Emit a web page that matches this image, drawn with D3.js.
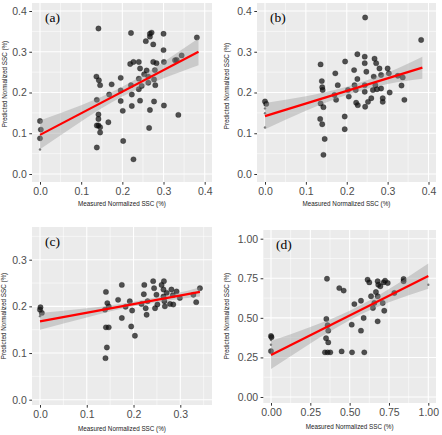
<!DOCTYPE html>
<html><head><meta charset="utf-8">
<script src="https://cdn.jsdelivr.net/npm/d3@7"></script>
<style>body{margin:0;background:#fff}svg{display:block}</style>
</head><body><svg id="c" width="442" height="435"></svg>
<script>
// ---------- DATA ----------
const panelLabels = ["(a)", "(b)", "(c)", "(d)"];
const xTitle = "Measured Normalized SSC (%)";
const yTitle = "Predicted Normalized SSC (%)";

const ticksA = [0, 0.1, 0.2, 0.3, 0.4];
const ticksC = [0, 0.1, 0.2, 0.3];
const ticksD = [0, 0.25, 0.5, 0.75, 1.0];

const aX = [0,0.002,0,0.142,0.137,0.143,0.146,0.138,0.142,0.142,0.142,0.138,0.146,0.146,0.138,0.166,0.168,0.174,0.196,0.196,0.196,0.201,0.202,0.221,0.219,0.227,0.221,0.223,0.223,0.227,0.240,0.243,0.240,0.240,0.243,0.247,0.257,0.259,0.263,0.263,0.267,0.267,0.271,0.267,0.265,0.275,0.275,0.279,0.277,0.280,0.277,0.283,0.300,0.300,0.301,0.301,0.328,0.332,0.344,0.336,0.381,0.253];
const aY = [0.130,0.109,0.0875,0.357,0.239,0.230,0.218,0.182,0.146,0.135,0.119,0.119,0.115,0.102,0.065,0.127,0.195,0.220,0.236,0.205,0.179,0.155,0.081,0.346,0.270,0.275,0.218,0.195,0.167,0.036,0.275,0.259,0.234,0.208,0.180,0.216,0.326,0.254,0.239,0.224,0.344,0.337,0.347,0.157,0.113,0.318,0.275,0.255,0.232,0.218,0.178,0.272,0.344,0.304,0.275,0.168,0.279,0.280,0.291,0.145,0.335,0.245];
const aSmallX = [0];
const aSmallY = [0.060];
const aFitX = [0, 0.385];
const aFitY = [0.096, 0.300];
const aBandX = [0, 0.1, 0.2, 0.3, 0.385];
const aBandLo = [0.061, 0.129, 0.190, 0.235, 0.267];
const aBandHi = [0.131, 0.169, 0.214, 0.275, 0.333];

const bX = [0.003,0,0.136,0.139,0.140,0.141,0.136,0.143,0.135,0.140,0.146,0.143,0.172,0.178,0.170,0.174,0.196,0.195,0.195,0.203,0.205,0.218,0.219,0.222,0.223,0.227,0.226,0.226,0.244,0.245,0.244,0.248,0.244,0.244,0.245,0.252,0.260,0.264,0.268,0.272,0.266,0.270,0.274,0.280,0.284,0.284,0.288,0.288,0.300,0.303,0.305,0.325,0.337,0.334,0.341,0.382];
const bY = [0.172,0.178,0.269,0.228,0.213,0.206,0.173,0.164,0.135,0.122,0.086,0.047,0.247,0.218,0.194,0.182,0.276,0.141,0.110,0.206,0.190,0.255,0.218,0.206,0.175,0.169,0.294,0.233,0.288,0.384,0.272,0.251,0.218,0.202,0.165,0.177,0.186,0.206,0.283,0.272,0.239,0.218,0.208,0.259,0.243,0.210,0.186,0.177,0.259,0.247,0.200,0.241,0.237,0.217,0.182,0.329];
const bSmallX = [0, 0, 0];
const bSmallY = [0.161, 0.149, 0.114];
const bFitX = [0, 0.385];
const bFitY = [0.142, 0.261];
const bBandX = [0, 0.1, 0.2, 0.3, 0.385];
const bBandLo = [0.110, 0.155, 0.194, 0.221, 0.234];
const bBandHi = [0.174, 0.191, 0.214, 0.249, 0.288];

const cX = [0.001,0,0.004,0.141,0.139,0.144,0.147,0.141,0.147,0.143,0.140,0.167,0.175,0.175,0.183,0.192,0.195,0.197,0.203,0.217,0.222,0.223,0.228,0.226,0.230,0.242,0.244,0.246,0.249,0.251,0.260,0.265,0.264,0.264,0.266,0.267,0.271,0.278,0.281,0.284,0.285,0.292,0.299,0.328,0.334,0.342];
const cY = [0.198,0.193,0.186,0.231,0.193,0.207,0.200,0.155,0.155,0.112,0.089,0.214,0.246,0.175,0.199,0.211,0.157,0.191,0.137,0.205,0.226,0.246,0.182,0.196,0.211,0.254,0.239,0.196,0.225,0.204,0.246,0.254,0.236,0.221,0.211,0.200,0.229,0.205,0.236,0.224,0.204,0.232,0.218,0.225,0.209,0.239];
const cSmallX = [0];
const cSmallY = [0.179];
const cFitX = [0, 0.342];
const cFitY = [0.168, 0.231];
const cBandX = [0, 0.1, 0.2, 0.3, 0.342];
const cBandLo = [0.150, 0.176, 0.200, 0.216, 0.221];
const cBandHi = [0.186, 0.196, 0.210, 0.230, 0.241];

const dX = [0,0.003,0,0.356,0.352,0.360,0.364,0.350,0.364,0.343,0.360,0.377,0.434,0.462,0.449,0.513,0.530,0.515,0.572,0.589,0.572,0.593,0.614,0.625,0.636,0.648,0.657,0.667,0.678,0.682,0.678,0.678,0.695,0.716,0.725,0.742,0.710,0.720,0.784,0.843,0.843];
const dY = [0.385,0.378,0.290,0.747,0.493,0.453,0.419,0.371,0.345,0.282,0.282,0.282,0.688,0.672,0.288,0.457,0.587,0.282,0.608,0.499,0.419,0.282,0.741,0.724,0.636,0.562,0.594,0.663,0.731,0.709,0.636,0.478,0.699,0.724,0.735,0.720,0.594,0.545,0.657,0.731,0.745];
const dSmallX = [0, 0, 1.0];
const dSmallY = [0.36, 0.33, 0.709];
const dFitX = [0, 1.0];
const dFitY = [0.265, 0.764];
const dBandX = [0, 0.25, 0.5, 0.75, 1.0];
const dBandLo = [0.177, 0.338, 0.485, 0.598, 0.684];
const dBandHi = [0.353, 0.442, 0.545, 0.682, 0.844];

// ---------- LAYOUT ----------
const panels = [
  {lab: panelLabels[0], X: aX, Y: aY, sX: aSmallX, sY: aSmallY, fX: aFitX, fY: aFitY, bX: aBandX, lo: aBandLo, hi: aBandHi,
   ticks: ticksA, yticks: ticksA, fmt: ".1f", box: [32, 212, 3, 182], xmap: [0, 0.4, 40, 204.7], ymap: [0, 0.4, 174, 11],
   minors: [0.05, 0.15, 0.25, 0.35], yminors: [0.05, 0.15, 0.25, 0.35], labPos: [45, 21.5], yT: [4.5, 84], xT: 206},
  {lab: panelLabels[1], X: bX, Y: bY, sX: bSmallX, sY: bSmallY, fX: bFitX, fY: bFitY, bX: bBandX, lo: bBandLo, hi: bBandHi,
   ticks: ticksA, yticks: ticksA, fmt: ".1f", box: [257, 436, 3, 182], xmap: [0, 0.4, 265, 428.5], ymap: [0, 0.4, 174, 11],
   minors: [0.05, 0.15, 0.25, 0.35], yminors: [0.05, 0.15, 0.25, 0.35], labPos: [270, 21.5], yT: [227, 86], xT: 206},
  {lab: panelLabels[2], X: cX, Y: cY, sX: cSmallX, sY: cSmallY, fX: cFitX, fY: cFitY, bX: cBandX, lo: cBandLo, hi: cBandHi,
   ticks: ticksC, yticks: ticksC, fmt: ".1f", box: [32, 212, 227, 405], xmap: [0, 0.3, 40, 180.3], ymap: [0, 0.3, 399.7, 259.7],
   minors: [0.05, 0.15, 0.25, 0.35], yminors: [0.05, 0.15, 0.25, 0.35], labPos: [45, 246], yT: [4, 316], xT: 431},
  {lab: panelLabels[3], X: dX, Y: dY, sX: dSmallX, sY: dSmallY, fX: dFitX, fY: dFitY, bX: dBandX, lo: dBandLo, hi: dBandHi,
   ticks: ticksD, yticks: ticksD, fmt: ".2f", box: [263.3, 436, 230, 403], xmap: [0, 1, 271, 428.3], ymap: [0, 1, 397, 238.7],
   minors: [0.125, 0.375, 0.625, 0.875], yminors: [0.125, 0.375, 0.625, 0.875], labPos: [276, 248.5], yT: [227, 316], xT: 429}
];

const svg = d3.select("#c");
const FONT = "'Liberation Sans', Arial, Helvetica, sans-serif";

panels.forEach((p, i) => {
  const [l, r, t, b] = p.box;
  const x = d3.scaleLinear().domain([p.xmap[0], p.xmap[1]]).range([p.xmap[2], p.xmap[3]]);
  const y = d3.scaleLinear().domain([p.ymap[0], p.ymap[1]]).range([p.ymap[2], p.ymap[3]]);
  const g = svg.append("g");
  const cid = "clip" + i;
  g.append("clipPath").attr("id", cid).append("rect").attr("x", l).attr("y", t).attr("width", r - l).attr("height", b - t);

  g.append("rect").attr("x", l).attr("y", t).attr("width", r - l).attr("height", b - t).attr("fill", "#ebebeb");
  const grid = g.append("g").attr("clip-path", `url(#${cid})`);
  // minor grid
  p.minors.forEach(v => { const px = x(v); if (px > l && px < r) grid.append("line").attr("x1", px).attr("x2", px).attr("y1", t).attr("y2", b).attr("stroke", "#fff").attr("stroke-width", 0.55); });
  p.yminors.forEach(v => { const py = y(v); if (py > t && py < b) grid.append("line").attr("y1", py).attr("y2", py).attr("x1", l).attr("x2", r).attr("stroke", "#fff").attr("stroke-width", 0.55); });
  // major grid
  p.ticks.forEach(v => grid.append("line").attr("x1", x(v)).attr("x2", x(v)).attr("y1", t).attr("y2", b).attr("stroke", "#fff").attr("stroke-width", 1.1));
  p.yticks.forEach(v => grid.append("line").attr("y1", y(v)).attr("y2", y(v)).attr("x1", l).attr("x2", r).attr("stroke", "#fff").attr("stroke-width", 1.1));

  const plot = g.append("g").attr("clip-path", `url(#${cid})`);
  // points
  const pts = p.X.map((v, k) => ({x: v, y: p.Y[k]}));
  plot.selectAll("circle.big").data(pts).join("circle").attr("class", "big")
    .attr("cx", d => x(d.x)).attr("cy", d => y(d.y)).attr("r", 2.7)
    .attr("fill", "#111").attr("fill-opacity", 0.72).attr("stroke", "#000").attr("stroke-opacity", 0.5).attr("stroke-width", 0.4);
  const sp = p.sX.map((v, k) => ({x: v, y: p.sY[k]}));
  plot.selectAll("circle.small").data(sp).join("circle").attr("class", "small")
    .attr("cx", d => x(d.x)).attr("cy", d => y(d.y)).attr("r", 1.2)
    .attr("fill", "#222").attr("fill-opacity", 0.6);
  // band
  const band = p.bX.map((v, k) => ({x: v, lo: p.lo[k], hi: p.hi[k]}));
  plot.append("path").datum(band)
    .attr("d", d3.area().x(d => x(d.x)).y0(d => y(d.lo)).y1(d => y(d.hi)).curve(d3.curveNatural))
    .attr("fill", "#999").attr("fill-opacity", 0.4);
  // fit line
  const fit = p.fX.map((v, k) => ({x: v, y: p.fY[k]}));
  plot.append("path").datum(fit)
    .attr("d", d3.line().x(d => x(d.x)).y(d => y(d.y)))
    .attr("stroke", "#ff0000").attr("stroke-width", 2.2).attr("fill", "none");

  // axes
  const fmt = d3.format(p.fmt);
  const xa = g.append("g").attr("transform", `translate(0,${b})`)
    .call(d3.axisBottom(x).tickValues(p.ticks).tickFormat(fmt).tickSize(2.7).tickPadding(2.5));
  const ya = g.append("g").attr("transform", `translate(${l},0)`)
    .call(d3.axisLeft(y).tickValues(p.yticks).tickFormat(fmt).tickSize(2.7).tickPadding(2.5));
  [xa, ya].forEach(a => {
    a.select(".domain").remove();
    a.selectAll(".tick line").attr("stroke", "#333").attr("stroke-width", 1);
    a.selectAll(".tick text").attr("fill", "#4d4d4d").style("font-family", FONT).style("font-size", "10.5px");
  });

  // titles
  g.append("text").attr("x", (l + r) / 2).attr("y", p.xT).attr("text-anchor", "middle")
    .style("font-family", FONT).style("font-size", "6.3px").attr("fill", "#222").text(xTitle);
  g.append("text").attr("transform", `translate(${p.yT[0] + 2.2},${p.yT[1]}) rotate(-90)`).attr("text-anchor", "middle")
    .style("font-family", FONT).style("font-size", "6.3px").attr("fill", "#222").text(yTitle);
  // panel label
  g.append("text").attr("x", p.labPos[0]).attr("y", p.labPos[1])
    .style("font-family", "'Liberation Serif', 'Times New Roman', serif").style("font-size", "13.5px").attr("fill", "#000").text(p.lab);
});
</script>
</body></html>
